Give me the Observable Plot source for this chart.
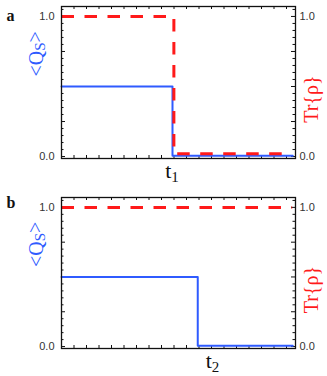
<!DOCTYPE html>
<html><head><meta charset="utf-8">
<script src="https://cdn.jsdelivr.net/npm/d3@7"></script>
<script src="https://cdn.jsdelivr.net/npm/@observablehq/plot@0.6"></script>
<style>
body{margin:0;background:#fff;}
#chart svg{display:block;}
</style></head><body><div id="chart"></div>
<script>
// ---- data ----
const panelLetters = ["a", "b"];
const blueA = [{x:0,y:0.5},{x:8.88,y:0.5},{x:8.88,y:0.005},{x:18.5,y:0.005}];
const redA  = [{x:0,y:1},{x:8.99,y:1},{x:8.99,y:0.02},{x:18.45,y:0.02}];
const blueB = [{x:0,y:0.5},{x:10.9,y:0.5},{x:10.9,y:0.005},{x:18.5,y:0.005}];
const redB  = [{x:0,y:1},{x:18.45,y:1}];
const timeLabels = [{x:8.84, main:"t", sub:"1"}, {x:12.08, main:"t", sub:"2"}];
const yTickLabels = [0, 1];
const xTicks = [1,2,3,4,5,6,7,8,9,10,11,12,13,14,15,16,17,18];
const yMajor = [0, 0.25, 0.5, 0.75, 1];
const yMinor = [0.05,0.1,0.15,0.2,0.3,0.35,0.4,0.45,0.55,0.6,0.65,0.7,0.8,0.85,0.9,0.95,1.05];
const leftLabel = {main:"<Q", sub:"S", end:">"};
const rightLabel = "Tr{ρ}";

const BLUE = "#2f5bff", RED = "#ff1a1a";
const W = 327, H = 188;

function panel(letter, blue, red, tl, mt, mb) {
  const ml = 61, mr = 32;
  const pw = W - ml - mr, ph = H - mt - mb;
  const svg = Plot.plot({
    width: W, height: H,
    marginLeft: ml, marginRight: mr, marginTop: mt, marginBottom: mb,
    x: {domain: [0, 18.72], axis: null},
    y: {domain: [-0.014, 1.071], axis: null},
    style: {background: "#fff"},
    marks: [
      Plot.tickY(yMajor, {y: d => d, insetRight: pw - 4, stroke: "#111", strokeWidth: 1}),
      Plot.tickY(yMinor, {y: d => d, insetRight: pw - 2.5, stroke: "#111", strokeWidth: 1}),
      Plot.tickY(yMajor, {y: d => d, insetLeft: pw - 4, stroke: "#111", strokeWidth: 1}),
      Plot.tickY(yMinor, {y: d => d, insetLeft: pw - 2.5, stroke: "#111", strokeWidth: 1}),
      Plot.tickX(xTicks, {x: d => d, insetTop: ph - 3, stroke: "#111", strokeWidth: 1}),
      Plot.tickX(xTicks, {x: d => d, insetBottom: ph - 3, stroke: "#111", strokeWidth: 1}),
      Plot.axisY(yTickLabels, {anchor: "left", tickSize: 0, tickPadding: 7, tickFormat: d3.format(".1f"), label: null,
        fontSize: 11, fontFamily: "Liberation Sans, Arial, sans-serif", fill: "#333"}),
      Plot.axisY(yTickLabels, {anchor: "right", tickSize: 0, tickPadding: 4, tickFormat: d3.format(".1f"), label: null,
        fontSize: 11, fontFamily: "Liberation Sans, Arial, sans-serif", fill: "#333"}),
      Plot.line(blue, {x: "x", y: "y", stroke: BLUE, strokeWidth: 2, curve: "linear"}),
      Plot.line(red, {x: "x", y: "y", stroke: RED, strokeWidth: 3, strokeDasharray: "12.5,10.5", strokeLinecap: "butt"}),
      Plot.frame({stroke: "#111", strokeWidth: 1.3}),
      Plot.text([tl], {x: "x", frameAnchor: "bottom", dy: 19, text: d => d.main + d.sub,
        fontSize: 22, fontFamily: "Liberation Serif, Times New Roman, serif", fill: "#111", className: "tlabel"}),
      Plot.text([leftLabel], {frameAnchor: "left", dx: -25, dy: -6, rotate: -90, text: d => d.main + d.sub + d.end,
        fontSize: 20, fontFamily: "Liberation Serif, Times New Roman, serif", fill: BLUE, className: "qlabel"}),
      Plot.text([rightLabel], {frameAnchor: "right", dx: 16, dy: -7, rotate: -90, text: d => d,
        fontSize: 20, fontFamily: "Liberation Serif, Times New Roman, serif", fill: RED}),
      Plot.text([letter], {frameAnchor: "top-left", dx: -55, dy: mt === 6 ? 3 : -1, text: d => d,
        fontSize: 16, fontWeight: "bold", fontFamily: "Liberation Serif, Times New Roman, serif", fill: "#111", textAnchor: "start"})
    ]
  });
  // subscripts
  d3.select(svg).selectAll("g.tlabel text").each(function() {
    const t = d3.select(this);
    t.text(null);
    t.append("tspan").text(tl.main);
    t.append("tspan").attr("dy", "0.3em").attr("font-size", "15").text(tl.sub);
  });
  d3.select(svg).selectAll("g.qlabel text").each(function() {
    const t = d3.select(this);
    t.text(null);
    t.append("tspan").text(leftLabel.main);
    t.append("tspan").attr("dy", "0.15em").attr("font-size", "15").text(leftLabel.sub);
    t.append("tspan").attr("dy", "-0.15em").text(leftLabel.end);
  });
  return svg;
}

const root = document.getElementById("chart");
root.appendChild(panel(panelLetters[0], blueA, redA, timeLabels[0], 6, 30));
root.appendChild(panel(panelLetters[1], blueB, redB, timeLabels[1], 9, 28));
</script></body></html>
